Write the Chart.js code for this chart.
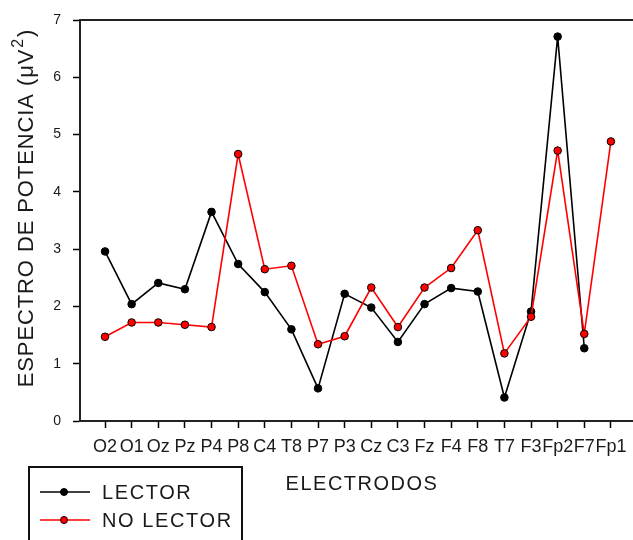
<!DOCTYPE html>
<html>
<head>
<meta charset="utf-8">
<script src="https://cdn.jsdelivr.net/npm/chart.js@4/dist/chart.umd.min.js"></script>
<style>
  html, body { margin: 0; padding: 0; background: #fff; }
  #wrap { width: 633px; height: 540px; }
</style>
</head>
<body>
<div id="wrap"><canvas id="c" width="633" height="540"></canvas></div>
<script>
// Electrode positions along the horizontal axis
const electrodos = ['O2','O1','Oz','Pz','P4','P8','C4','T8','P7','P3','Cz','C3','Fz','F4','F8','T7','F3','Fp2','F7','Fp1'];
// Power spectrum (µV²) per electrode
const lector   = [2.96, 2.04, 2.41, 2.30, 3.65, 2.74, 2.25, 1.60, 0.57, 2.22, 1.98, 1.38, 2.04, 2.32, 2.26, 0.41, 1.91, 6.71, 1.27, null];
const noLector = [1.47, 1.72, 1.72, 1.68, 1.64, 4.66, 2.65, 2.71, 1.34, 1.48, 2.33, 1.64, 2.33, 2.67, 3.33, 1.18, 1.82, 4.72, 1.52, 4.88];
const yTicks = [0, 1, 2, 3, 4, 5, 6, 7];

const FONT = '"Liberation Sans", Arial, sans-serif';
const TXT = '#1a1a1a';

function toPoints(arr) {
  return arr.map((v, i) => (v === null ? null : { x: i, y: v })).filter(p => p !== null);
}

// Frame line along the top, axis titles and the boxed legend
const extras = {
  id: 'extras',
  afterDraw(chart) {
    const ctx = chart.ctx;
    const a = chart.chartArea;
    ctx.save();
    // top frame line
    ctx.strokeStyle = '#222';
    ctx.lineWidth = 2;
    ctx.beginPath();
    ctx.moveTo(a.left, a.top);
    ctx.lineTo(a.right, a.top);
    ctx.stroke();

    // y-axis title with superscript
    ctx.fillStyle = TXT;
    ctx.translate(27, 208);
    ctx.rotate(-Math.PI / 2);
    ctx.letterSpacing = '0.9px';
    const main = 'ESPECTRO DE POTENCIA (\u03bcV';
    ctx.font = '22px ' + FONT;
    const wMain = ctx.measureText(main).width;
    ctx.font = '16px ' + FONT;
    const wSup = ctx.measureText('2').width;
    ctx.font = '22px ' + FONT;
    const wClose = ctx.measureText(')').width;
    const total = wMain + wSup + wClose + 2;
    let x0 = -total / 2;
    ctx.textBaseline = 'middle';
    ctx.textAlign = 'left';
    ctx.fillText(main, x0, 0);
    ctx.font = '16px ' + FONT;
    ctx.fillText('2', x0 + wMain + 1, -8);
    ctx.font = '22px ' + FONT;
    ctx.fillText(')', x0 + wMain + wSup + 2, 0);
    ctx.setTransform(1, 0, 0, 1, 0, 0);

    // x-axis title
    ctx.font = '20px ' + FONT;
    ctx.letterSpacing = '1.5px';
    ctx.textAlign = 'center';
    ctx.textBaseline = 'middle';
    ctx.fillText('ELECTRODOS', 362, 484);

    // legend box
    ctx.letterSpacing = '0px';
    ctx.strokeStyle = '#111';
    ctx.lineWidth = 2;
    ctx.strokeRect(29, 467, 213, 90);
    const items = [
      { label: 'LECTOR', line: '#000', fill: '#000', y: 492 },
      { label: 'NO LECTOR', line: '#ff0000', fill: '#ff0000', y: 520 }
    ];
    items.forEach(it => {
      ctx.strokeStyle = it.line;
      ctx.lineWidth = 1.6;
      ctx.beginPath();
      ctx.moveTo(40, it.y);
      ctx.lineTo(90, it.y);
      ctx.stroke();
      ctx.beginPath();
      ctx.arc(64, it.y, 3.5, 0, Math.PI * 2);
      ctx.fillStyle = it.fill;
      ctx.fill();
      ctx.strokeStyle = '#000';
      ctx.lineWidth = 1;
      ctx.stroke();
      ctx.fillStyle = TXT;
      ctx.font = '20px ' + FONT;
      ctx.letterSpacing = '1.6px';
      ctx.textAlign = 'left';
      ctx.textBaseline = 'middle';
      ctx.fillText(it.label, 102, it.y + 1);
    });
    ctx.restore();
  }
};

new Chart(document.getElementById('c'), {
  type: 'line',
  data: {
    datasets: [
      {
        label: 'LECTOR',
        data: toPoints(lector),
        borderColor: '#000',
        backgroundColor: '#000',
        pointBackgroundColor: '#000',
        pointBorderColor: '#000',
        borderWidth: 1.6,
        pointRadius: 3.8,
        pointBorderWidth: 1,
        tension: 0,
        order: 1
      },
      {
        label: 'NO LECTOR',
        data: toPoints(noLector),
        borderColor: '#ff0000',
        backgroundColor: '#ff0000',
        pointBackgroundColor: '#ff0000',
        pointBorderColor: '#000',
        borderWidth: 1.6,
        pointRadius: 3.8,
        pointBorderWidth: 1,
        tension: 0,
        order: 0
      }
    ]
  },
  options: {
    responsive: false,
    animation: false,
    layout: { autoPadding: false, padding: { top: 20, right: 0, left: 0, bottom: 0 } },
    plugins: { legend: { display: false }, tooltip: { enabled: false } },
    scales: {
      x: {
        type: 'linear',
        min: -0.94,
        max: 19.83,
        afterFit(s) { s.height = 119; s.paddingLeft = 0; s.paddingRight = 0; },
        afterBuildTicks(s) { s.ticks = electrodos.map((_, i) => ({ value: i })); },
        grid: { drawOnChartArea: false, drawTicks: true, tickLength: 7, color: '#000', tickWidth: 1.5 },
        border: { display: true, color: '#222', width: 2 },
        ticks: {
          autoSkip: false,
          maxRotation: 0,
          padding: 8,
          color: TXT,
          font: { family: FONT, size: 18 },
          callback: (v) => electrodos[v] ?? ''
        }
      },
      y: {
        min: 0,
        max: 7,
        afterFit(s) { s.width = 80; s.paddingTop = 0; s.paddingBottom = 0; },
        afterBuildTicks(s) { s.ticks = yTicks.map(v => ({ value: v })); },
        grid: { drawOnChartArea: false, drawTicks: true, tickLength: 7, color: '#000', tickWidth: 1.5 },
        border: { display: true, color: '#222', width: 2 },
        ticks: {
          padding: 12,
          color: TXT,
          font: { family: FONT, size: 14 }
        }
      }
    }
  },
  plugins: [extras]
});
</script>
</body>
</html>
